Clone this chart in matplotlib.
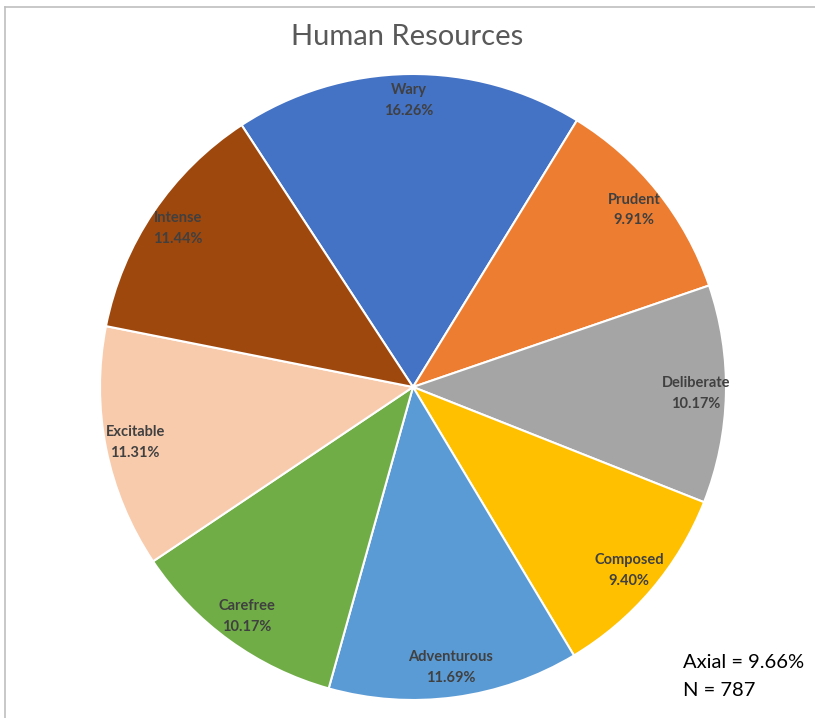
import numpy as np
import matplotlib.pyplot as plt
from matplotlib.lines import Line2D

# slice data (percent of all respondents, Axial shown as a note)
styles = ['Wary', 'Prudent', 'Deliberate', 'Composed', 'Adventurous',
          'Carefree', 'Excitable', 'Intense']
shares = [16.26, 9.91, 10.17, 9.40, 11.69, 10.17, 11.31, 11.44]
colors = ['#4472C4', '#ED7D31', '#A5A5A5', '#FFC000', '#5B9BD5',
          '#70AD47', '#F8CBAD', '#9E480E']
axial = 9.66
n_total = 787

plt.rcParams['font.family'] = ['Lato', 'DejaVu Sans']

fig = plt.figure(figsize=(8.15, 7.18), dpi=100)
W, H = 815, 718
cx, cy, r = 413, 387, 313
ax = fig.add_axes([(cx - r) / W, (H - cy - r) / H, 2 * r / W, 2 * r / H])

wedges, _ = ax.pie(shares, colors=colors, startangle=123.2, counterclock=False,
                   radius=1, wedgeprops=dict(edgecolor='white', linewidth=1.5))
ax.set_xlim(-1, 1)
ax.set_ylim(-1, 1)
ax.set_aspect('equal')
ax.axis('off')

for w, name, v in zip(wedges, styles, shares):
    mid = np.deg2rad((w.theta1 + w.theta2) / 2)
    d = 0.915 if name == 'Wary' else 0.905
    ax.text(d * np.cos(mid), d * np.sin(mid), f'{name}\n{v:.2f}%',
            ha='center', va='center', fontsize=10.5, fontweight='bold',
            color='#404040', linespacing=1.6)

fig.text(0.5, 1 - 37 / H, 'Human Resources', ha='center', va='center',
         fontsize=21, color='#595959')
fig.text(683 / W, 1 - 662 / H, f'Axial = {axial:.2f}%', ha='left', va='center',
         fontsize=14.5, color='black')
fig.text(683 / W, 1 - 690 / H, f'N = {n_total}', ha='left', va='center',
         fontsize=14.5, color='black')

# chart border (top and left edges visible in the crop)
fig.add_artist(Line2D([5 / W, 1], [1 - 7 / H, 1 - 7 / H], color='#BFBFBF', lw=1.2))
fig.add_artist(Line2D([5 / W, 5 / W], [0, 1 - 7 / H], color='#BFBFBF', lw=1.2))

fig.savefig('out.png', dpi=100)
